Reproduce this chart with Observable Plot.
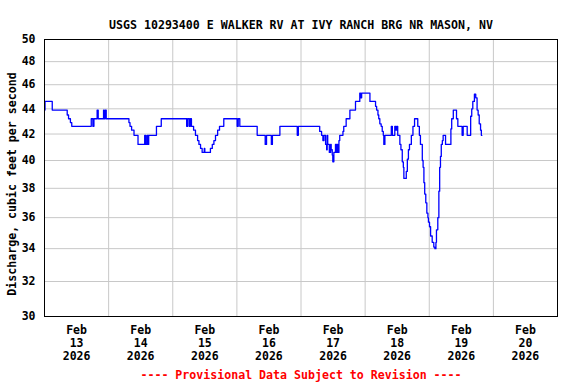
<!DOCTYPE html>
<html>
<head>
<meta charset="utf-8">
<script src="https://cdn.jsdelivr.net/npm/d3@7"></script>
<script src="https://cdn.jsdelivr.net/npm/@observablehq/plot@0.6"></script>
<style>
  html, body { margin: 0; padding: 0; background: #fff; }
</style>
</head>
<body>
<div id="chart"></div>
<script>
const chartTitle = "USGS 10293400 E WALKER RV AT IVY RANCH BRG NR MASON, NV";
const yLabel = "Discharge, cubic feet per second";
const footer = "---- Provisional Data Subject to Revision ----";
const yTicks = [30, 32, 34, 36, 38, 40, 42, 44, 46, 48, 50];
const dayLabels = [13, 14, 15, 16, 17, 18, 19, 20];

// hours since 2026-02-13 00:00 at which the discharge value changes
const hours = [0, 0.2, 2.9, 8.5, 9.0, 9.7, 10.2, 17.5, 18.1, 18.5, 19.7, 20.1, 22.1, 22.3, 22.7, 23.1,
  31.6, 32.0, 32.6, 33.5, 35.0, 37.5, 37.9, 38.4, 38.8, 39.0, 41.9, 43.7,
  53.2, 53.6, 54.2, 54.6, 55.0, 55.8, 56.5, 57.3, 57.8, 58.4, 59.0, 59.8, 60.0, 62.1, 62.8, 63.4, 64.0, 64.8, 65.5, 67.1,
  72.1, 72.5, 73.1, 79.6, 82.6, 83.1, 84.9, 85.3, 88.1, 94.6, 95.0,
  103.0, 103.7, 104.2, 104.6, 105.2, 105.6, 105.8, 106.0, 106.6, 107.1, 107.3, 107.7, 107.9, 108.3, 108.9, 109.3, 109.6, 109.8, 110.2, 110.5,
  111.7, 112.0, 112.9, 114.3, 116.4, 118.0, 118.3, 118.7, 121.8, 123.9, 124.3, 124.8, 125.1, 125.5, 126.0, 126.4, 126.8, 127.0, 127.4,
  129.8, 130.2, 131.1, 131.5, 131.8, 132.2, 133.0, 133.4, 133.9, 134.3, 134.5, 135.4, 135.8, 136.2, 136.6, 137.3, 137.9, 138.5,
  139.7, 140.3, 140.7, 141.4, 141.7, 142.0, 142.3, 142.7, 143.1, 143.5, 143.7, 144.1, 144.5, 145.1, 145.7, 146.1, 146.5, 146.7,
  147.2, 147.6, 147.9, 148.2, 148.5, 148.9, 149.2, 150.1, 152.1, 152.4, 153.0, 154.2, 154.7, 156.3, 156.7, 158.2,
  159.5, 159.9, 160.3, 160.9, 161.4, 161.9, 162.3, 162.7, 163.2, 163.5, 163.7];

// discharge, cubic feet per second
const cfs = [43.9, 44.6, 43.9, 43.5, 43.2, 42.9, 42.6, 43.2, 42.6, 43.2, 43.9, 43.2, 43.9, 43.2, 43.9, 43.2,
  42.9, 42.6, 42.3, 41.9, 41.2, 41.9, 41.2, 41.9, 41.2, 41.9, 42.6, 43.2,
  42.6, 43.2, 42.6, 43.2, 42.6, 42.3, 41.9, 41.5, 41.2, 40.9, 40.6, 40.9, 40.6, 40.9, 41.2, 41.5, 41.9, 42.3, 42.6, 43.2,
  42.6, 43.2, 42.6, 41.9, 41.2, 41.9, 41.2, 41.9, 42.6, 41.9, 42.6,
  42.2, 41.9, 41.5, 41.9, 41.2, 40.8, 41.9, 41.2, 40.6, 41.2, 40.8, 40.4, 39.9, 40.6, 41.2, 40.6, 41.2, 40.6, 41.5, 41.9,
  42.2, 42.6, 43.2, 43.9, 44.6, 45.3, 44.9, 45.3, 44.6, 44.2, 43.9, 43.5, 43.2, 42.8, 42.6, 42.2, 41.9, 41.2, 41.9,
  42.6, 41.9, 42.6, 42.3, 42.6, 41.9, 41.2, 40.8, 39.9, 39.5, 38.7, 39.2, 40.1, 40.8, 41.2, 41.9, 42.6, 43.2,
  42.6, 41.9, 41.2, 40.0, 39.5, 38.4, 37.6, 37.0, 36.3, 36.0, 35.7, 35.4, 34.8, 34.4, 34.1, 34.0, 34.4, 35.2,
  36.0, 37.8, 39.5, 40.3, 41.2, 41.5, 41.9, 41.2, 42.4, 43.2, 43.9, 43.2, 42.6, 41.9, 42.6, 41.9,
  43.4, 44.0, 44.6, 45.2, 44.9, 43.9, 43.5, 42.8, 42.3, 41.9, 41.9];

const t0 = Date.UTC(2026, 1, 13);
const HOUR = 3600e3, DAY = 86400e3;
const data = hours.map((h, i) => ({date: new Date(t0 + h * HOUR), cfs: cfs[i]}));
const midnights = d3.range(1, 8).map(k => new Date(t0 + k * DAY));
const noons = dayLabels.map((d, k) => new Date(t0 + k * DAY + 12 * HOUR));

const chart = Plot.plot({
  width: 576,
  height: 384,
  marginTop: 39,
  marginLeft: 44,
  marginRight: 19,
  marginBottom: 68,
  style: {fontFamily: "'DejaVu Sans Mono', monospace", fontWeight: "bold", fontSize: "11px", color: "#000", background: "#fff"},
  x: {type: "utc", domain: [new Date(t0), new Date(t0 + 8 * DAY)], axis: null},
  y: {type: "log", domain: [30, 50], axis: null},
  marks: [
    Plot.gridX(midnights, {stroke: "#c8c8c8", strokeOpacity: 1}),
    Plot.gridY(yTicks.slice(1, -1), {stroke: "#c8c8c8", strokeOpacity: 1}),
    Plot.axisY(yTicks, {tickSize: 0, tickPadding: 9, fontSize: 11.5, label: null, tickFormat: d => String(d)}),
    Plot.text(noons, {
      x: d => d,
      text: (d, i) => `Feb\n${dayLabels[i]}\n2026`,
      frameAnchor: "bottom",
      lineAnchor: "top",
      lineHeight: 1.13,
      dy: 8,
      fontSize: 11.5
    }),
    Plot.line(data, {x: "date", y: "cfs", curve: "step-after", stroke: "#0000ff", strokeWidth: 1.3}),
    Plot.frame({stroke: "#000", strokeWidth: 1}),
    Plot.text([chartTitle], {frameAnchor: "top", dy: -19, fontSize: 11.6}),
    Plot.text([yLabel], {frameAnchor: "left", textAnchor: "middle", rotate: -90, dx: -32, dy: 6, fontSize: 11.6}),
    Plot.text([footer], {frameAnchor: "bottom", dy: 62, fontSize: 11.6, fill: "#ff0000"})
  ]
});
document.getElementById("chart").appendChild(chart);
</script>
</body>
</html>
